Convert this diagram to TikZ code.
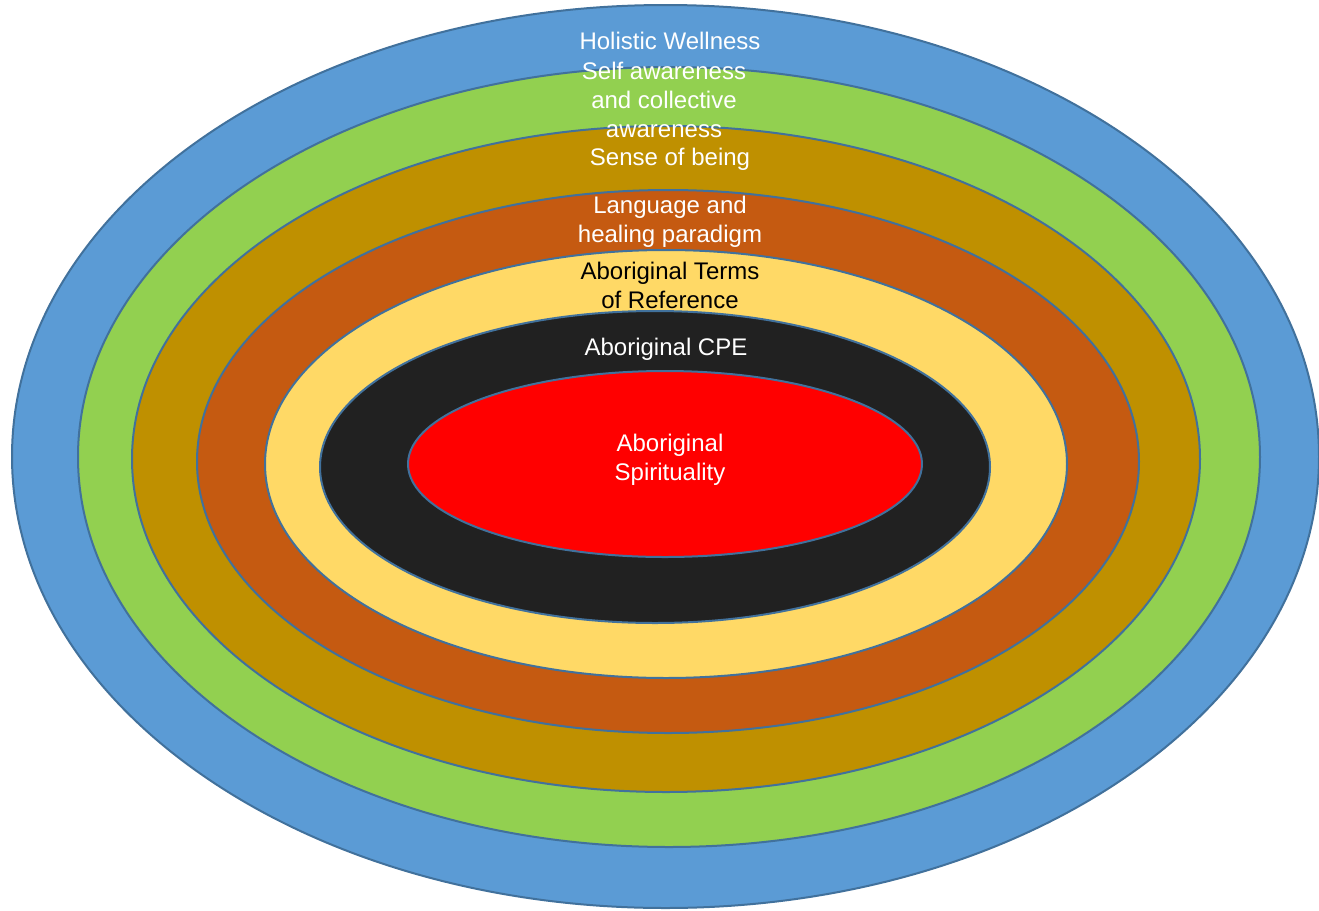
\documentclass[tikz,border=0pt]{standalone}
\usepackage{fontspec}
\setmainfont{Liberation Sans}
\definecolor{cblue}{HTML}{5B9BD5}
\definecolor{cgreen}{HTML}{92D050}
\definecolor{cgold}{HTML}{BF9000}
\definecolor{corange}{HTML}{C55A11}
\definecolor{cyellow}{HTML}{FFD966}
\definecolor{cblack}{HTML}{212121}
\definecolor{cred}{HTML}{FF0000}
\definecolor{cline}{HTML}{41719C}
\tikzset{
  ring/.style={draw=cline, line width=1pt},
  lbl/.style={inner sep=0pt, align=center, font=\fontsize{12}{14.5}\selectfont},
}
\begin{document}
\begin{tikzpicture}[x=0.5pt,y=-0.5pt]
\useasboundingbox (0,0) rectangle (1319,911);
\fill[white] (0,0) rectangle (1319,911);
\path[ring, fill=cblue]   (665.5,456.5) ellipse [x radius=653.5, y radius=451.5];
\path[ring, fill=cgreen]  (669,457) ellipse [x radius=591, y radius=390];
\path[ring, fill=cgold]   (666,459) ellipse [x radius=534, y radius=333];
\path[ring, fill=corange] (668,461.5) ellipse [x radius=471, y radius=271.5];
\path[ring, fill=cyellow] (666,464) ellipse [x radius=401, y radius=214];
\path[ring, fill=cblack]  (655,467) ellipse [x radius=335, y radius=156];
\path[ring, fill=cred]    (665,464) ellipse [x radius=257, y radius=93];
\node[lbl, text=white] (holistic) at (670,41) {Holistic Wellness};
\node[lbl, text=white] (self) at (664,99.5) {Self awareness\\and collective\\awareness};
\node[lbl, text=white] (sense) at (670,159) {Sense of being};
\node[lbl, text=white] (lang) at (670,221.5) {Language and\\healing paradigm};
\node[lbl, text=black] (terms) at (670,285.5) {Aboriginal Terms\\of Reference};
\node[lbl, text=white] (cpe) at (666,349) {Aboriginal CPE};
\node[lbl, text=white] (spirit) at (670,459.5) {Aboriginal\\Spirituality};
\end{tikzpicture}
\end{document}
